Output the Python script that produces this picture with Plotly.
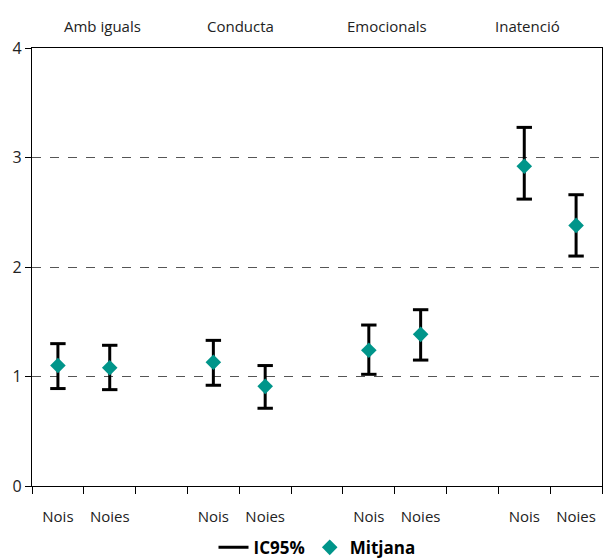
import plotly.graph_objects as go

# Slots along the x axis: each group has Nois / Noies, separated by an empty slot
slot_labels = ["Nois", "Noies", "", "Nois", "Noies", "", "Nois", "Noies", "", "Nois", "Noies"]
groups = ["Amb iguals", "Conducta", "Emocionals", "Inatenció"]

# Means and 95% confidence limits per bar slot (empty slots excluded)
point_slots = [0, 1, 3, 4, 6, 7, 9, 10]
mitjana = [1.10, 1.08, 1.13, 0.91, 1.24, 1.385, 2.92, 2.38]
ic_low = [0.89, 0.88, 0.92, 0.71, 1.02, 1.15, 2.62, 2.10]
ic_high = [1.30, 1.285, 1.33, 1.10, 1.47, 1.61, 3.275, 2.66]

# Where the group headings sit across the top (paper fraction)
group_label_x = [0.124, 0.366, 0.622, 0.870]

FONT = "Open Sans"
TEAL = "#00958A"

fig = go.Figure()

# Vertical CI segments
seg_x, seg_y = [], []
for xs, lo, hi in zip(point_slots, ic_low, ic_high):
    seg_x += [xs, xs, None]
    seg_y += [lo, hi, None]
fig.add_trace(go.Scatter(
    x=seg_x, y=seg_y, mode="lines", name="IC95%",
    line=dict(color="black", width=3), hoverinfo="skip",
))

# CI caps
fig.add_trace(go.Scatter(
    x=point_slots + point_slots, y=ic_low + ic_high, mode="markers",
    marker=dict(symbol="line-ew", size=11, line=dict(color="black", width=3)),
    showlegend=False, hoverinfo="skip",
))

# Means
fig.add_trace(go.Scatter(
    x=point_slots, y=mitjana, mode="markers", name="Mitjana",
    marker=dict(symbol="diamond", size=12, color=TEAL, line=dict(width=0)),
))

# Invisible trace on the second x axis so its boundary ticks are drawn
fig.add_trace(go.Scatter(
    x=[0], y=[0], xaxis="x2", mode="markers",
    marker=dict(opacity=0), showlegend=False, hoverinfo="skip",
))

label_slots = [i for i, s in enumerate(slot_labels) if s]
x_range = [-0.5, len(slot_labels) - 0.5]

fig.update_layout(
    width=606, height=560,
    margin=dict(l=32, r=4, t=48, b=74, autoexpand=False),
    paper_bgcolor="white", plot_bgcolor="white",
    font=dict(family=FONT, size=15, color="#222"),
    showlegend=True,
    legend=dict(
        orientation="h", x=0.5, xanchor="center", y=-0.1, yanchor="top",
        font=dict(family=FONT, size=17, color="black", weight="bold"),
        itemwidth=30, tracegroupgap=0,
    ),
    xaxis=dict(
        range=x_range, tickmode="array",
        tickvals=label_slots, ticktext=[slot_labels[i] for i in label_slots],
        ticks="outside", ticklen=17, tickcolor="rgba(0,0,0,0)",
        showgrid=False, zeroline=False,
        showline=True, linecolor="black", linewidth=1.2, mirror=True,
        tickfont=dict(size=15, color="#222"),
    ),
    xaxis2=dict(
        range=x_range, overlaying="x", anchor="y", side="bottom",
        tickmode="array",
        tickvals=[i - 0.5 for i in range(len(slot_labels) + 1)],
        ticks="outside", ticklen=7, tickcolor="black", tickwidth=1,
        showticklabels=False, showgrid=False, zeroline=False, showline=False,
    ),
    yaxis=dict(
        range=[0, 4], dtick=1, ticks="outside", ticklen=6, tickcolor="black",
        showgrid=True, gridcolor="#555", griddash="dash", gridwidth=1.2,
        zeroline=False, showline=True, linecolor="black", linewidth=1.2, mirror=True,
        tickfont=dict(size=16, color="#222"),
    ),
)

for name, gx in zip(groups, group_label_x):
    fig.add_annotation(
        text=name, x=gx, y=1.0, xref="paper", yref="paper",
        xanchor="center", yanchor="bottom", yshift=10, showarrow=False,
        font=dict(family=FONT, size=15, color="#222"),
    )

fig.write_html("out.html")
